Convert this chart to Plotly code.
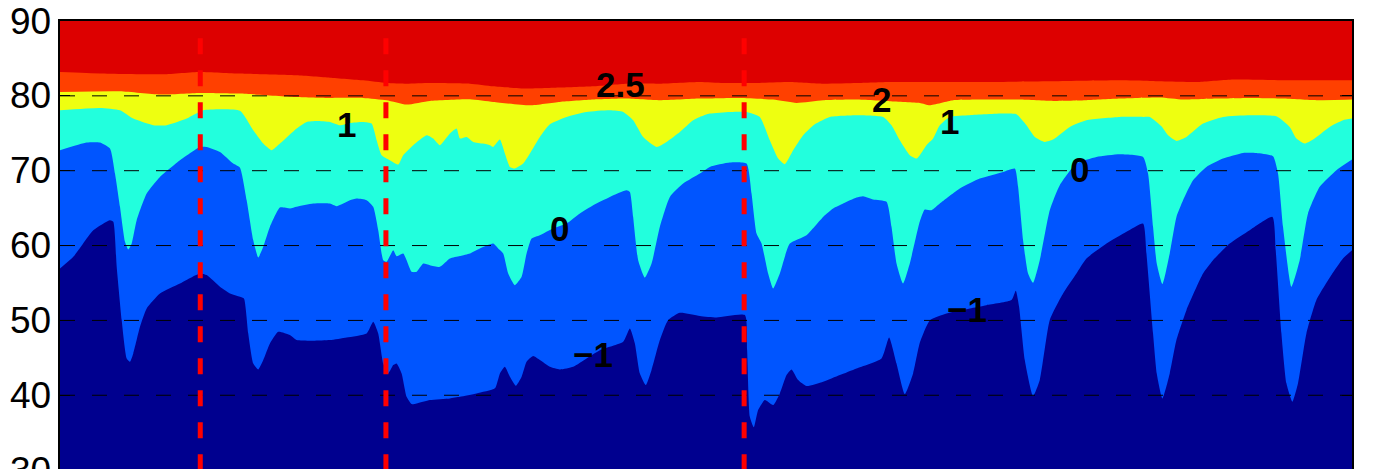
import plotly.graph_objects as go

# ---- contour boundaries (x: along-track sample position, y: depth-like axis value) ----
b25_x = [0, 40, 103.3, 140, 180, 236.7, 270, 303.3, 326.7, 346.7, 370, 410, 433.3, 466.7, 500, 533.3, 566.7,
         600, 640, 663.3, 696.7, 730, 763.3, 796.7, 830, 860, 926.7, 993.3, 1060, 1090, 1140, 1173.3, 1223.3,
         1256.7, 1292.3]
b25_y = [83.19, 83.0, 82.88, 83.19, 82.97, 82.75, 82.43, 82.08, 81.72, 81.63, 81.72, 81.63, 81.28, 80.97, 81.10,
         81.28, 81.63, 81.63, 81.86, 81.72, 81.72, 81.86, 81.63, 81.72, 81.86, 81.86, 81.86, 81.95, 82.08, 82.0,
         81.86, 82.17, 82.08, 82.08, 82.08]

b2_x = [0, 60, 100, 140, 180, 236.7, 270, 303.3, 326.7, 346.7, 370, 410, 433.3, 470, 500, 533.3, 566.7, 600, 640,
        680, 713.3, 736.7, 763.3, 796.7, 830, 860, 870, 893.3, 926.7, 960, 993.3, 1026.7, 1060, 1100, 1123.3,
        1156.7, 1190, 1223.3, 1256.7, 1292.3]
b2_y = [80.52, 80.61, 80.17, 80.39, 80.30, 79.85, 79.72, 79.72, 79.41, 78.83, 79.32, 79.54, 79.19, 78.74, 79.19,
        79.50, 79.63, 79.41, 79.63, 79.72, 79.50, 79.05, 79.41, 79.50, 79.28, 79.05, 78.74, 79.41, 79.50, 79.50,
        79.32, 79.41, 79.63, 79.77, 79.50, 79.63, 79.72, 79.63, 79.41, 79.50]

b1_x = [0, 40, 60, 73.3, 93.3, 106.7, 126.7, 143.3, 180, 193.3, 203.3, 211.7, 220, 236.7, 246.7, 256.7, 270, 280,
        290, 303.3, 311.7, 316.7, 321.7, 330, 338.3, 343.3, 353.3, 366.7, 373.3, 380, 390, 396.7, 400, 406.7,
        413.3, 423.3, 430, 433.3, 440, 445, 450, 455, 463.3, 470, 480, 490, 506.7, 526.7, 550, 563.3, 573.3,
        583.3, 596.7, 606.7, 620, 633.3, 640, 650, 670, 686.7, 700, 710, 718.3, 725, 733.3, 743.3, 755, 770,
        796.7, 823.3, 831.7, 840, 850, 856.7, 860, 866.7, 873.3, 880, 890, 910, 943.3, 956.7, 966.7, 975, 985,
        993.3, 1010, 1026.7, 1060, 1083.3, 1090, 1101.7, 1108.3, 1116.7, 1126.7, 1143.3, 1163.3, 1190, 1216.7,
        1230, 1236.7, 1245, 1253.3, 1270, 1283.3, 1292.3]
b1_y = [78.07, 78.39, 78.07, 76.96, 76.07, 76.07, 76.96, 78.07, 78.0, 75.40, 73.62, 72.73, 73.62, 75.63, 76.52,
        76.65, 76.52, 76.07, 76.38, 76.52, 76.29, 74.07, 72.07, 71.40, 70.82, 72.07, 73.40, 74.73, 74.29, 73.40,
        74.96, 75.63, 74.3, 74.51, 73.85, 73.62, 73.40, 73.18, 74.16, 72.29, 70.51, 70.29, 70.95, 72.29, 74.51,
        76.20, 77.18, 77.85, 78.07, 77.85, 76.74, 74.51, 73.18, 73.85, 75.18, 76.74, 77.18, 77.63, 77.85, 77.85,
        77.18, 74.07, 71.62, 70.87, 72.73, 74.73, 76.20, 77.18, 77.41, 77.18, 76.07, 74.07, 72.07, 71.62, 72.07,
        73.40, 74.29, 76.07, 77.18, 77.41, 77.63, 77.54, 76.07, 74.51, 73.85, 74.16, 75.85, 76.74, 77.18, 77.18,
        77.18, 75.93, 74.73, 73.98, 74.51, 76.29, 77.18, 77.41, 77.27, 75.85, 74.29, 73.62, 74.16, 75.85, 76.74,
        76.96]

b0_x = [0, 26.7, 40, 50, 55, 60, 65, 68.3, 71.7, 76.7, 86.7, 100, 120, 140, 146.7, 160, 173.3, 180, 186.7, 193.3,
        198.3, 203.3, 210, 220, 230, 236.7, 253.3, 270, 276.7, 290, 296.7, 306.7, 313.3, 318.3, 323.3, 326.7,
        333.3, 336.7, 343.3, 346.7, 351.7, 356.7, 363.3, 370, 380, 390, 400, 410, 420, 433.3, 438.3, 443.3,
        448.3, 455, 461.7, 466.7, 471.7, 480, 493.3, 506.7, 520, 533.3, 550, 566.7, 570, 573.3, 578.3, 585,
        591.7, 600, 610, 623.3, 640, 650, 670, 686.7, 691.7, 696.7, 701.7, 708.3, 713.3, 720, 730, 746.7, 763.3,
        773.3, 783.3, 796.7, 803.3, 813.3, 826.7, 831.7, 836.7, 843.3, 850, 860, 865, 871.7, 880, 900, 920,
        943.3, 955, 958.3, 963.3, 968.3, 973.3, 980, 990, 1000, 1016.7, 1036.7, 1060, 1083.3, 1088.3, 1093.3,
        1097, 1102.7, 1110, 1116.7, 1123.3, 1133.3, 1146.7, 1163.3, 1183.3, 1196.7, 1213.3, 1218.3, 1223.3,
        1231.7, 1240, 1248.3, 1260, 1276.7, 1292.3]
b0_y = [72.73, 73.76, 73.76, 72.96, 69.62, 65.17, 60.50, 59.47, 60.27, 63.39, 66.95, 69.17, 71.40, 73.18, 73.18,
        72.51, 70.95, 70.4, 66.06, 60.72, 58.40, 59.83, 62.50, 65.08, 64.95, 65.17, 65.61, 65.61, 65.26, 66.06,
        66.28, 66.06, 65.17, 62.05, 58.05, 57.83, 59.38, 58.58, 58.94, 58.05, 56.49, 56.49, 57.60, 57.38, 57.16,
        58.27, 58.6, 58.94, 59.61, 60.27, 59.61, 58.94, 56.27, 54.71, 55.82, 58.94, 60.94, 61.39, 62.28, 62.94,
        64.28, 65.39, 66.50, 67.39, 67.17, 63.83, 58.05, 55.74, 57.60, 62.50, 66.50, 68.28, 69.62, 70.51, 71.09,
        70.95, 66.95, 61.61, 60.27, 56.27, 54.27, 56.27, 60.27, 61.39, 63.83, 64.95, 65.61, 66.41, 66.59, 66.15,
        65.84, 62.50, 57.60, 54.93, 57.60, 63.2, 64.81, 64.72, 65.61, 67.62, 68.95, 69.84, 70.29, 67.84, 60.72,
        56.27, 55.02, 58.05, 64.72, 68.06, 70.95, 71.84, 72.20, 71.84, 69.62, 62.50, 57.60, 54.85, 58.94, 63.83,
        66.06, 68.73, 70.51, 71.62, 72.38, 72.38, 71.93, 69.62, 62.50, 54.49, 58.05, 64.28, 67.84, 70.07, 71.49]

bm1_x = [0, 13.3, 33.3, 50, 53.3, 56.7, 61.7, 66.7, 70, 73.3, 80, 86.7, 100, 120, 140, 146.7, 160, 170, 180, 184,
         188.3, 193.3, 198.3, 203.3, 210, 218.3, 230, 236.7, 253.3, 270, 286.7, 306.7, 313.3, 318.3, 323.3, 328.3,
         333.3, 336.7, 341.7, 346.7, 351.7, 356.7, 370, 390, 400, 416.7, 435, 440, 445, 450, 456, 461.7, 466.7,
         473.3, 480, 490, 500, 513.3, 526.7, 540, 563.3, 570, 575, 580, 586, 591.7, 600, 608.3, 620, 640, 656.7,
         685, 687.3, 690, 694, 698.3, 705, 713.3, 720, 726.7, 731.7, 738.3, 746.7, 763.3, 780, 796.7, 821.7,
         829.3, 836.7, 845, 853.3, 860, 870, 886.7, 910, 926.7, 951.7, 956, 959.3, 965, 973.3, 980, 990, 1003.3,
         1016.7, 1026.7, 1046.7, 1066.7, 1083.3, 1086.7, 1093.3, 1097, 1102.7, 1110, 1116.7, 1126.7, 1143.3,
         1153.3, 1170, 1190, 1212.7, 1216, 1221.7, 1226.7, 1232.7, 1238.3, 1246.7, 1256.7, 1271.7, 1283.3, 1292.3]
bm1_y = [56.94, 58.49, 62.05, 63.39, 63.17, 57.16, 50.04, 44.92, 44.48, 45.59, 49.15, 51.60, 53.60, 54.93, 56.27,
         56.05, 54.49, 53.6, 53.15, 52.93, 48.26, 44.25, 43.45, 44.70, 46.92, 48.48, 48.04, 47.37, 47.28, 47.37,
         47.72, 48.26, 49.82, 48.26, 44.25, 42.92, 44.03, 44.25, 42.92, 39.80, 38.82, 38.91, 39.36, 39.58, 39.8,
         40.25, 40.92, 42.92, 43.81, 42.47, 41.27, 42.47, 44.48, 45.23, 44.70, 43.81, 43.45, 43.81, 44.92, 46.03,
         47.15, 48.93, 46.92, 42.92, 41.36, 43.36, 47.37, 50.04, 51.02, 50.6, 50.40, 50.71, 46.03, 37.13, 35.71,
         38.02, 39.36, 38.69, 40.25, 42.70, 43.45, 42.03, 41.23, 41.81, 42.70, 43.59, 44.92, 47.72, 44.25, 40.16,
         42.92, 47.0, 50.0, 50.93, 51.60, 52.04, 52.71, 53.96, 51.82, 44.70, 39.89, 42.03, 50.04, 53.60, 56.27,
         58.27, 60.27, 61.83, 62.94, 58.94, 48.26, 42.92, 39.58, 42.92, 47.37, 51.37, 56.27, 58.05, 60.27, 62.05,
         63.83, 59.38, 48.26, 41.59, 39.14, 41.59, 48.26, 52.71, 56.05, 58.27, 59.38]

# contour level labels
label_text = ["1", "2.5", "0", "\u22121", "2", "1", "0", "\u22121"]
label_x = [287, 561, 500, 533, 822, 890, 1020, 907]
label_y = [76.2, 81.55, 62.3, 45.5, 79.55, 76.6, 70.2, 51.5]

y_ticks = [30, 40, 50, 60, 70, 80, 90]
grid_levels = [40, 50, 60, 70, 80]
event_x = [140.3, 326, 684.3]
event_top = 87.7

X_MIN, X_MAX = 0, 1292.3
Y_MIN, Y_MAX = 29.08, 90   # lower part of the axes runs past the bottom of the view

RED = "#DD0000"
layers = [
    (b25_x, b25_y, "#FF4000"),
    (b2_x, b2_y, "#EEFF10"),
    (b1_x, b1_y, "#22FFDD"),
    (b0_x, b0_y, "#0055FF"),
    (bm1_x, bm1_y, "#00008F"),
]

fig = go.Figure()
for bx, by, col in layers:
    fig.add_trace(go.Scatter(
        x=bx, y=by, mode="lines",
        line=dict(width=0, shape="spline", smoothing=0.5),
        fill="tozeroy", fillcolor=col,
        hoverinfo="skip", showlegend=False,
    ))

shapes = []
for g in grid_levels:
    shapes.append(dict(type="line", xref="x", yref="y", x0=X_MIN, x1=X_MAX, y0=g, y1=g,
                       line=dict(color="black", width=1, dash="15px,17px"), layer="above"))
for ex in event_x:
    shapes.append(dict(type="line", xref="x", yref="y", x0=ex, x1=ex, y0=event_top, y1=Y_MIN - 2,
                       line=dict(color="#FF0000", width=5, dash="16px,16px"), layer="above"))

annotations = []
for t, lx, ly in zip(label_text, label_x, label_y):
    annotations.append(dict(x=lx, y=ly, xref="x", yref="y", text="<b>%s</b>" % t, showarrow=False,
                            font=dict(family="Liberation Sans, Arial", size=35, color="black"),
                            xanchor="center", yanchor="middle"))
# y tick labels (drawn as text so the edge labels are not dropped)
for tv in y_ticks:
    annotations.append(dict(x=0, y=tv, xref="paper", yref="y", text=str(tv), showarrow=False,
                            xanchor="right", yanchor="middle", xshift=-7,
                            font=dict(family="Liberation Sans, Arial", size=37, color="black")))

fig.update_layout(
    width=1377, height=469,
    margin=dict(l=52, r=33, t=13, b=0, pad=0, autoexpand=False),
    paper_bgcolor="white", plot_bgcolor=RED,
    shapes=shapes, annotations=annotations,
    font=dict(family="Liberation Sans, Arial", color="black"),
)
fig.update_xaxes(range=[X_MIN, X_MAX], showticklabels=False, showgrid=False, zeroline=False,
                 showline=True, mirror=True, linecolor="black", linewidth=2, ticks="", automargin=False)
fig.update_yaxes(range=[Y_MIN, Y_MAX], tickvals=y_ticks, showticklabels=False,
                 ticks="inside", ticklen=10, tickwidth=1, tickcolor="black",
                 showgrid=False, zeroline=False, showline=True, mirror="ticks",
                 linecolor="black", linewidth=2, layer="above traces", automargin=False)

fig.write_html("out.html")
